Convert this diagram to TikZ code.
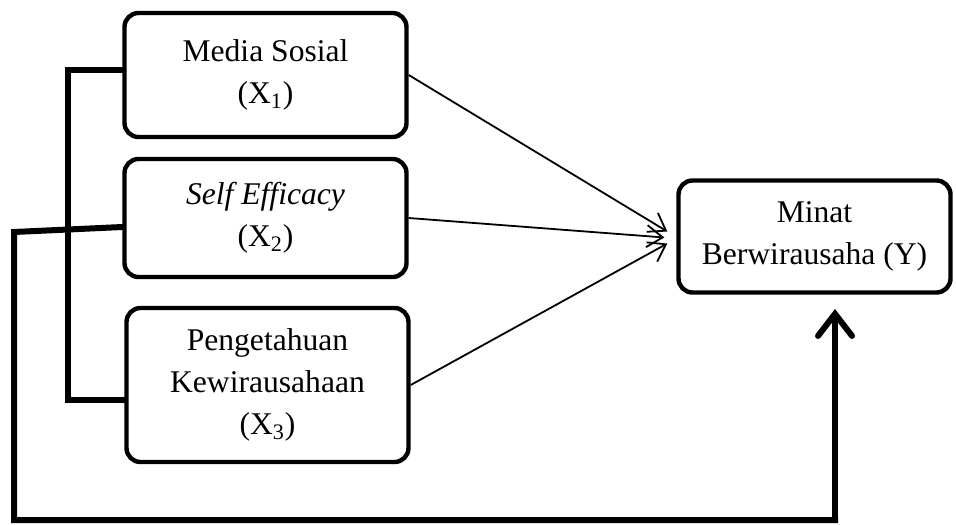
\documentclass[tikz,border=0pt]{standalone}
\usepackage{fontspec}
\setmainfont{Liberation Serif}
\usepackage{tikz}
\usetikzlibrary{arrows.meta}
\usetikzlibrary{positioning}
\tikzstyle{var_node} = [
    rectangle, 
    rounded corners=7pt, 
    draw=black, 
    line width=2.2pt, 
    align=center, 
    inner sep=2pt, 
    font=\fontsize{15.8}{21}\selectfont, 
    text centered
]
\tikzstyle{thin_arrow} = [
    line width=0.9pt, 
    -{Straight Barb[length=8pt, width=11pt]}
]
\tikzstyle{thick_line} = [
    line width=3pt, 
    line cap=rect
]
\tikzstyle{thick_arrow} = [
    line width=3pt, 
    -{Straight Barb[length=11pt, width=17pt, line cap=round]}
]

\begin{document}
\begin{tikzpicture}[x=0.5pt, y=-0.5pt]
\useasboundingbox (0,0) rectangle (956,524);
% independent variables
\node [var_node, minimum width=141pt, minimum height=62pt] (x1) at (265.5,75) 
    {Media Sosial\\(X\textsubscript{1})};
\node [var_node, minimum width=141pt, minimum height=59pt] (x2) at (265.5,218) 
    {\textit{Self Efficacy}\\(X\textsubscript{2})};
\node [var_node, minimum width=141pt, minimum height=77pt] (x3) at (267.5,385) 
    {Pengetahuan\\Kewirausahaan\\(X\textsubscript{3})};
% dependent variable
\node [var_node, minimum width=136pt, minimum height=56pt] (y) at (814.5,236.5) 
    {Minat\\Berwirausaha (Y)};
% partial effects
\draw [thin_arrow] (x1.east) -- ([xshift=-4.5pt, yshift=2.5pt]y.west);
\draw [thin_arrow] (x2.east) -- ([xshift=-6pt, yshift=-0.5pt]y.west);
\draw [thin_arrow] (x3.east) -- ([xshift=-4.5pt, yshift=-3.5pt]y.west);
% bracket for x1 - x3
\coordinate (b_top) at (68,70);
\coordinate (b_bot) at (68,400);
\draw [thick_line] ([yshift=2.5pt]x1.west) -- (b_top) -- (b_bot) 
    -- ([yshift=-7.5pt]x3.west);
% simultaneous effect
\coordinate (s_top) at (14,232);
\coordinate (s_bot) at (14,520);
\coordinate (s_end) at (835,520);
\coordinate (s_tip) at (835,309);
\draw [thick_line] ([yshift=-4.5pt]x2.west) -- (s_top) -- (s_bot) -- (s_end);
\draw [thick_arrow] (s_end) -- (s_tip);
\end{tikzpicture}
\end{document}
